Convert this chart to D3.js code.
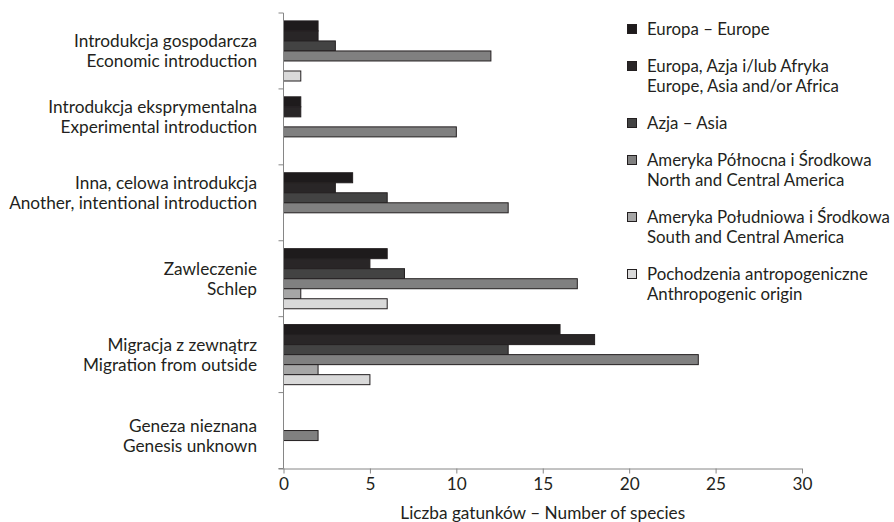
<!DOCTYPE html>
<html>
<head>
<meta charset="utf-8">
<script src="https://cdn.jsdelivr.net/npm/d3@7"></script>
<style>
  html, body { margin: 0; padding: 0; background: #ffffff; }
  svg { display: block; }
  text { font-family: Lato, "Open Sans", sans-serif; fill: #231f20; }
</style>
</head>
<body>
<svg id="chart" width="894" height="522"></svg>
<script>
// ---------- data ----------
const categories = [
  ["Introdukcja gospodarcza", "Economic introduction"],
  ["Introdukcja eksprymentalna", "Experimental introduction"],
  ["Inna, celowa introdukcja", "Another, intentional introduction"],
  ["Zawleczenie", "Schlep"],
  ["Migracja z zewnątrz", "Migration from outside"],
  ["Geneza nieznana", "Genesis unknown"]
];
const seriesNames = [
  ["Europa – Europe"],
  ["Europa, Azja i/lub Afryka", "Europe, Asia and/or Africa"],
  ["Azja – Asia"],
  ["Ameryka Północna i Środkowa", "North and Central America"],
  ["Ameryka Południowa i Środkowa", "South and Central America"],
  ["Pochodzenia antropogeniczne", "Anthropogenic origin"]
];
const europe              = [2, 1, 4, 6, 16, 0];
const europeAsiaAfrica    = [2, 1, 3, 5, 18, 0];
const asia                = [3, 0, 6, 7, 13, 0];
const northCentralAmerica = [12, 10, 13, 17, 24, 2];
const southCentralAmerica = [0, 0, 0, 1, 2, 0];
const anthropogenic       = [1, 0, 0, 6, 5, 0];
const xTicks = [0, 5, 10, 15, 20, 25, 30];
const xTitle = "Liczba gatunków – Number of species";

const seriesValues = [europe, europeAsiaAfrica, asia, northCentralAmerica, southCentralAmerica, anthropogenic];
const colors = ["#1e1b1c", "#292627", "#434343", "#808080", "#a6a6a6", "#d9d9d9"];

// ---------- layout ----------
const svg = d3.select("#chart");
const plotLeft = 283.5, plotRight = 802, plotTop = 13, plotBottom = 468.5;

function fitSize(str, width) {
  const probe = svg.append("text").style("font-size", "20px").text(str);
  const w = probe.node().getComputedTextLength();
  probe.remove();
  return 20 * width / w;
}
const fs = fitSize("Another, intentional introduction", 248);
const lfs = Math.min(fs, fitSize("Ameryka Południowa i Środkowa", 243));

const x = d3.scaleLinear().domain([0, 30]).range([plotLeft, plotRight]);
const catIdx = d3.range(categories.length);
const y0 = d3.scaleBand().domain(catIdx).range([plotTop, plotBottom]).paddingInner(0).paddingOuter(0);
const y1 = d3.scaleBand().domain(d3.range(seriesValues.length)).range([0, y0.bandwidth()]).paddingInner(0).paddingOuter(0.79);

// bars
const barData = [];
seriesValues.forEach((vals, s) => vals.forEach((v, c) => { if (v > 0) barData.push({s, c, v}); }));
svg.append("g").selectAll("rect").data(barData).enter().append("rect")
  .attr("x", x(0))
  .attr("y", d => y0(d.c) + y1(d.s))
  .attr("width", d => x(d.v) - x(0))
  .attr("height", y1.bandwidth())
  .attr("fill", d => colors[d.s])
  .attr("stroke", "#231f20")
  .attr("stroke-width", 1);

// axes
const axisColor = "#868686";
const xAxis = svg.append("g").attr("transform", `translate(0,${plotBottom})`)
  .call(d3.axisBottom(x).tickValues(xTicks).tickSize(5).tickPadding(4).tickFormat(d3.format("d")));
xAxis.select(".domain").attr("stroke", axisColor).attr("d", `M${plotLeft - 5},0.5H${plotRight}`);
xAxis.selectAll(".tick line").attr("stroke", axisColor);
xAxis.selectAll(".tick text").style("font-size", fs + "px").attr("fill", "#231f20")
  .style("font-family", 'Lato, "Open Sans", sans-serif');

// y axis line and boundary ticks
const yBounds = catIdx.map(c => y0(c)).concat([plotBottom]);
const yAxisG = svg.append("g");
yAxisG.append("line").attr("x1", plotLeft).attr("x2", plotLeft).attr("y1", plotTop).attr("y2", plotBottom)
  .attr("stroke", axisColor);
yAxisG.selectAll("line.t").data(yBounds).enter().append("line").attr("class", "t")
  .attr("x1", plotLeft - 5).attr("x2", plotLeft).attr("y1", d => d).attr("y2", d => d)
  .attr("stroke", axisColor);

// category labels: centred on the extent of drawn bars
const labelG = svg.append("g");
categories.forEach((lines, c) => {
  const present = d3.range(seriesValues.length).filter(s => seriesValues[s][c] > 0);
  const top = y0(c) + y1(d3.min(present));
  const bot = y0(c) + y1(d3.max(present)) + y1.bandwidth();
  const cy = (top + bot) / 2;
  const lh = 20;
  lines.forEach((ln, i) => {
    labelG.append("text")
      .attr("x", 257)
      .attr("y", cy + (i - (lines.length - 1) / 2) * lh)
      .attr("dy", "0.35em")
      .attr("text-anchor", "end")
      .style("font-size", fs + "px")
      .text(ln);
  });
});

// x-axis title
svg.append("text").attr("x", (plotLeft + plotRight) / 2).attr("y", 513).attr("dy", "0.35em")
  .attr("text-anchor", "middle").style("font-size", fs + "px").text(xTitle);

// legend
const legG = svg.append("g");
let ly = 29;
seriesNames.forEach((lines, s) => {
  legG.append("rect").attr("x", 627.5).attr("y", ly - 4.5).attr("width", 9).attr("height", 9)
    .attr("fill", colors[s]).attr("stroke", "#231f20").attr("stroke-width", 1);
  lines.forEach((ln, i) => {
    legG.append("text").attr("x", 647).attr("y", ly + i * 20).attr("dy", "0.35em")
      .style("font-size", lfs + "px").text(ln);
  });
  ly += lines.length * 20 + 17;
});
</script>
</body>
</html>
